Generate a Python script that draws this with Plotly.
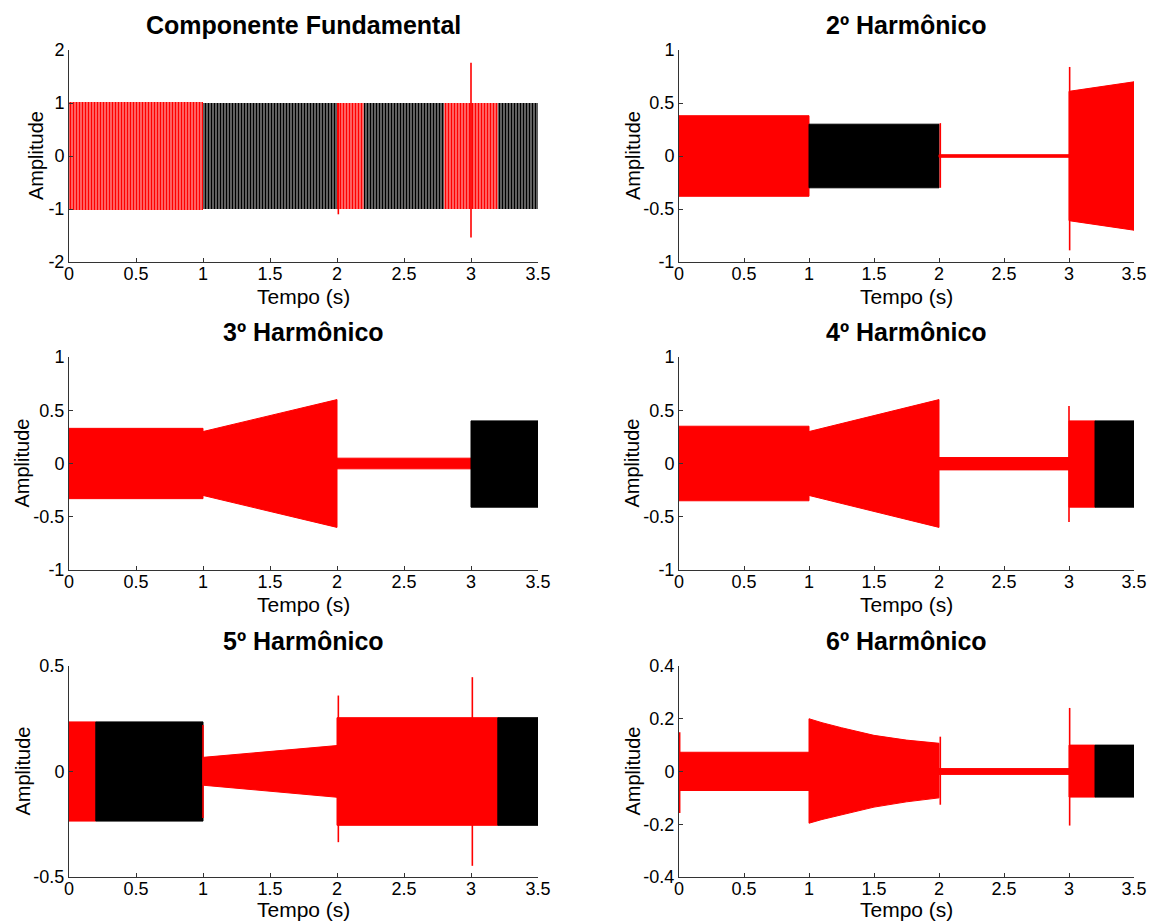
import plotly.graph_objects as go

# ---------------- data ----------------
# Each segment: times, upper envelope, lower envelope, colour
FUND_T = [[0, 1], [1, 2], [2, 2.2], [2.2, 2.8], [2.8, 3.2], [3.2, 3.5]]
FUND_UP = [[1.02, 1.02], [1.0, 1.0], [1.0, 1.0], [1.0, 1.0], [1.0, 1.0], [1.0, 1.0]]
FUND_LO = [[-1.02, -1.02], [-1.0, -1.0], [-1.0, -1.0], [-1.0, -1.0], [-1.0, -1.0], [-1.0, -1.0]]
FUND_C = ["red", "black", "red", "black", "red", "black"]
FUND_SPK_T = [2.01, 3.0]
FUND_SPK_HI = [1.0, 1.76]
FUND_SPK_LO = [-1.1, -1.54]

H2_T = [[0, 1], [1, 2], [2, 3], [3, 3.5]]
H2_UP = [[0.38, 0.38], [0.30, 0.30], [0.012, 0.012], [0.61, 0.70]]
H2_LO = [[-0.38, -0.38], [-0.30, -0.30], [-0.012, -0.012], [-0.61, -0.70]]
H2_C = ["red", "black", "red", "red"]
H2_SPK_T = [2.01, 3.005]
H2_SPK_HI = [0.31, 0.84]
H2_SPK_LO = [-0.30, -0.89]

H3_T = [[0, 1], [1, 2], [2, 3], [3, 3.5]]
H3_UP = [[0.33, 0.33], [0.30, 0.60], [0.05, 0.05], [0.40, 0.40]]
H3_LO = [[-0.33, -0.33], [-0.30, -0.60], [-0.05, -0.05], [-0.41, -0.41]]
H3_C = ["red", "red", "red", "black"]
H3_SPK_T = []
H3_SPK_HI = []
H3_SPK_LO = []

H4_T = [[0, 1], [1, 2], [2, 3], [3, 3.2], [3.2, 3.5]]
H4_UP = [[0.35, 0.35], [0.30, 0.60], [0.056, 0.056], [0.40, 0.40], [0.40, 0.40]]
H4_LO = [[-0.35, -0.35], [-0.30, -0.60], [-0.06, -0.06], [-0.41, -0.41], [-0.41, -0.41]]
H4_C = ["red", "red", "red", "red", "black"]
H4_SPK_T = [3.0]
H4_SPK_HI = [0.54]
H4_SPK_LO = [-0.55]

H5_T = [[0, 0.2], [0.2, 1], [1, 2], [2, 3.2], [3.2, 3.5]]
H5_UP = [[0.235, 0.235], [0.235, 0.235], [0.067, 0.123], [0.255, 0.255], [0.255, 0.255]]
H5_LO = [[-0.235, -0.235], [-0.235, -0.235], [-0.065, -0.122], [-0.255, -0.255], [-0.255, -0.255]]
H5_C = ["red", "black", "red", "red", "black"]
H5_SPK_T = [1.0, 2.01, 3.01]
H5_SPK_HI = [0.22, 0.36, 0.447]
H5_SPK_LO = [-0.22, -0.335, -0.447]

H6_T = [[0, 1], [1, 1.1, 1.25, 1.5, 1.75, 2], [2, 3], [3, 3.2], [3.2, 3.5]]
H6_UP = [[0.073, 0.073], [0.20, 0.185, 0.166, 0.137, 0.119, 0.107], [0.011, 0.011], [0.10, 0.10], [0.10, 0.10]]
H6_LO = [[-0.072, -0.072], [-0.196, -0.182, -0.163, -0.135, -0.115, -0.10], [-0.011, -0.011], [-0.097, -0.097], [-0.097, -0.097]]
H6_C = ["red", "red", "red", "red", "black"]
H6_SPK_T = [0.005, 2.01, 3.005]
H6_SPK_HI = [0.149, 0.132, 0.241]
H6_SPK_LO = [-0.157, -0.126, -0.205]

TITLES = ["Componente Fundamental", "2º Harmônico", "3º Harmônico",
          "4º Harmônico", "5º Harmônico", "6º Harmônico"]
X_TITLE = "Tempo (s)"
Y_TITLE = "Amplitude"
Y_RANGES = [[-2, 2], [-1, 1], [-1, 1], [-1, 1], [-0.5, 0.5], [-0.4, 0.4]]
X_TICKS = [0, 0.5, 1, 1.5, 2, 2.5, 3, 3.5]
X_LABELS = ["0", "0.5", "1", "1.5", "2", "2.5", "3", "3.5"]
Y_TICKS = [[-2, -1, 0, 1, 2], [-1, -0.5, 0, 0.5, 1], [-1, -0.5, 0, 0.5, 1],
           [-1, -0.5, 0, 0.5, 1], [-0.5, 0, 0.5], [-0.4, -0.2, 0, 0.2, 0.4]]
Y_LABELS = [["-2", "-1", "0", "1", "2"], ["-1", "-0.5", "0", "0.5", "1"],
            ["-1", "-0.5", "0", "0.5", "1"], ["-1", "-0.5", "0", "0.5", "1"],
            ["-0.5", "0", "0.5"], ["-0.4", "-0.2", "0", "0.2", "0.4"]]

PANELS = [
    (FUND_T, FUND_UP, FUND_LO, FUND_C, FUND_SPK_T, FUND_SPK_HI, FUND_SPK_LO),
    (H2_T, H2_UP, H2_LO, H2_C, H2_SPK_T, H2_SPK_HI, H2_SPK_LO),
    (H3_T, H3_UP, H3_LO, H3_C, H3_SPK_T, H3_SPK_HI, H3_SPK_LO),
    (H4_T, H4_UP, H4_LO, H4_C, H4_SPK_T, H4_SPK_HI, H4_SPK_LO),
    (H5_T, H5_UP, H5_LO, H5_C, H5_SPK_T, H5_SPK_HI, H5_SPK_LO),
    (H6_T, H6_UP, H6_LO, H6_C, H6_SPK_T, H6_SPK_HI, H6_SPK_LO),
]

# ---------------- layout geometry ----------------
W, H = 1150, 922
COLS_PX = [(69, 538), (679, 1134)]
ROWS_PX = [(50, 262), (357, 570), (666, 877)]
XTITLE_OFF = [34, 34, 32]                 # px below each row's x axis
YTITLE_X = [36, 633, 22, 632, 22, 632]   # centre of the rotated y titles (px)

FONT = "Liberation Sans, Arial, Helvetica, sans-serif"

fig = go.Figure()
layout = dict(
    width=W, height=H, autosize=False,
    margin=dict(l=0, r=0, t=0, b=0),
    paper_bgcolor="white", plot_bgcolor="white",
    showlegend=False,
    font=dict(family=FONT, color="black", size=18),
)
annotations = []

for i, (segT, segU, segL, segC, spT, spH, spL) in enumerate(PANELS):
    r, c = divmod(i, 2)
    n = "" if i == 0 else str(i + 1)
    xa, ya = "x" + n, "y" + n
    x0, x1 = COLS_PX[c]
    ytop, ybot = ROWS_PX[r]
    xdom = [x0 / W, x1 / W]
    ydom = [1 - ybot / H, 1 - ytop / H]

    for t, u, lo, col in zip(segT, segU, segL, segC):
        xs = list(t) + list(t)[::-1] + [t[0]]
        ys = list(u) + list(lo)[::-1] + [u[0]]
        kw = dict(x=xs, y=ys, mode="lines", fill="toself", xaxis=xa, yaxis=ya,
                  hoverinfo="skip", showlegend=False)
        if i == 0:
            fig.add_trace(go.Scatter(
                **kw, fillcolor="white",
                line=dict(width=0, color=col),
                fillpattern=dict(shape="|", fgcolor=col, bgcolor="white",
                                 fgopacity=1, fillmode="replace",
                                 size=3, solidity=0.75)))
        else:
            fig.add_trace(go.Scatter(**kw, fillcolor=col,
                                     line=dict(width=1, color=col)))

    if spT:
        sx, sy = [], []
        for t, hi, lo in zip(spT, spH, spL):
            sx += [t, t, None]
            sy += [hi, lo, None]
        fig.add_trace(go.Scatter(x=sx, y=sy, mode="lines", xaxis=xa, yaxis=ya,
                                 line=dict(color="red", width=1.6),
                                 hoverinfo="skip", showlegend=False))

    axcommon = dict(showline=True, linecolor="#333", linewidth=1,
                    ticks="inside", ticklen=4, tickcolor="#333",
                    showgrid=False, zeroline=False, mirror=False,
                    automargin=False,
                    tickfont=dict(family=FONT, size=18, color="black"))
    layout["xaxis" + n] = dict(
        **axcommon, domain=xdom, anchor=ya, range=[0, 3.5],
        tickvals=X_TICKS, ticktext=X_LABELS, ticklabelstandoff=-5,
    )
    layout["yaxis" + n] = dict(
        **axcommon, domain=ydom, anchor=xa, range=Y_RANGES[i],
        tickvals=Y_TICKS[i], ticktext=Y_LABELS[i],
    )
    annotations.append(dict(
        text="<b>" + TITLES[i] + "</b>", x=(x0 + x1) / 2 / W,
        y=1 - (ytop - 25) / H, xref="paper", yref="paper",
        xanchor="center", yanchor="middle", showarrow=False,
        font=dict(family=FONT, size=25, color="black"),
    ))
    annotations.append(dict(
        text=X_TITLE, x=(x0 + x1) / 2 / W,
        y=1 - (ybot + XTITLE_OFF[r]) / H, xref="paper", yref="paper",
        xanchor="center", yanchor="middle", showarrow=False,
        font=dict(family=FONT, size=21, color="black"),
    ))
    annotations.append(dict(
        text=Y_TITLE, x=YTITLE_X[i] / W,
        y=1 - (ytop + ybot) / 2 / H, xref="paper", yref="paper",
        xanchor="center", yanchor="middle", showarrow=False, textangle=-90,
        font=dict(family=FONT, size=20, color="black"),
    ))

layout["annotations"] = annotations
fig.update_layout(**layout)
fig.write_html("out.html")
